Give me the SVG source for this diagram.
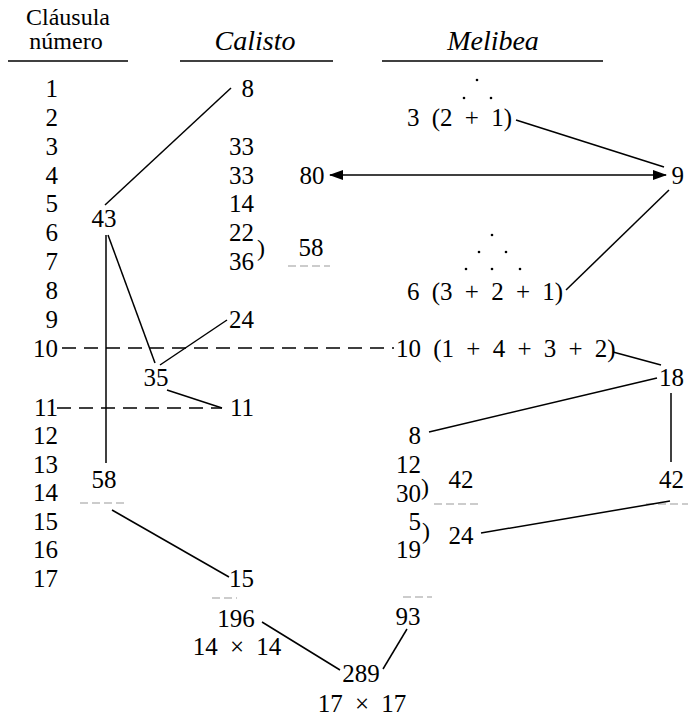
<svg xmlns="http://www.w3.org/2000/svg" width="688" height="717" viewBox="0 0 688 717">
<defs>
<marker id="ah" viewBox="0 0 14 10" refX="13" refY="5" markerWidth="14" markerHeight="10" markerUnits="userSpaceOnUse" orient="auto-start-reverse">
<path d="M0,0 L14,5 L0,10 Z" fill="#000"/>
</marker>
</defs>
<style>
text{font-family:"Liberation Serif","Times New Roman",serif;font-size:25px;fill:#000}
.hd{font-size:24px}
.it{font-style:italic;font-size:28px}
.e{text-anchor:end}
.m{text-anchor:middle}
.ws{word-spacing:6px}
.pr{font-size:24px}
.ln{stroke:#000;stroke-width:1.5;fill:none}
.rule{stroke:#000;stroke-width:1.6}
.dash{stroke-dasharray:14 8}
.faint{stroke:#999;stroke-width:1.2;stroke-dasharray:8 4}
.dot{fill:#000}
</style>
<rect width="688" height="717" fill="#fff"/>

<g id="header">
<text class="hd m" x="68" y="25">Cláusula</text>
<text class="hd m" x="66" y="49">número</text>
<line class="rule" x1="8" y1="61" x2="128" y2="61"/>
<text class="it m" x="255" y="50">Calisto</text>
<line class="rule" x1="180" y1="61" x2="333" y2="61"/>
<text class="it m" x="493" y="50">Melibea</text>
<line class="rule" x1="382" y1="61" x2="603" y2="61"/>
</g>

<g id="clause-numbers">
<text class="e" x="58" y="97">1</text>
<text class="e" x="58" y="126">2</text>
<text class="e" x="58" y="155">3</text>
<text class="e" x="58" y="184">4</text>
<text class="e" x="58" y="212">5</text>
<text class="e" x="58" y="241">6</text>
<text class="e" x="58" y="270">7</text>
<text class="e" x="58" y="299">8</text>
<text class="e" x="58" y="328">9</text>
<text class="e" x="58" y="357">10</text>
<text class="e" x="58" y="416">11</text>
<text class="e" x="58" y="444">12</text>
<text class="e" x="58" y="473">13</text>
<text class="e" x="58" y="501">14</text>
<text class="e" x="58" y="530">15</text>
<text class="e" x="58" y="558">16</text>
<text class="e" x="58" y="587">17</text>
</g>

<g id="calisto">
<g id="c8"><text class="e" x="254" y="97">8</text></g>
<g id="c33a"><text class="e" x="254" y="155">33</text></g>
<g id="c33b"><text class="e" x="254" y="184">33</text></g>
<g id="c14"><text class="e" x="254" y="212">14</text></g>
<g id="c22"><text class="e" x="254" y="241">22</text></g>
<g id="c36"><text class="e" x="254" y="270">36</text><text class="pr" x="257" y="256">)</text></g>
<g id="c58b"><text class="m" x="311" y="256">58</text><line class="faint" x1="288" y1="266" x2="330" y2="266"/></g>
<g id="c43"><text class="m" x="104" y="227">43</text></g>
<g id="c24"><text class="e" x="254" y="328">24</text></g>
<g id="c35"><text class="m" x="156" y="386">35</text></g>
<g id="c11"><text class="e" x="254" y="416">11</text></g>
<g id="c58a"><text class="m" x="104" y="488">58</text><line class="faint" x1="80" y1="503" x2="127" y2="503"/></g>
<g id="c15"><text class="e" x="254" y="587">15</text><line class="faint" x1="212" y1="598" x2="237" y2="598"/></g>
<g id="c196"><text class="m" x="236" y="627">196</text><text class="m ws" x="237" y="655">14 × 14</text></g>
</g>

<g id="melibea">
<g id="dots1">
<circle class="dot" cx="477" cy="80" r="1.3"/>
<circle class="dot" cx="464" cy="98" r="1.3"/>
<circle class="dot" cx="491" cy="98" r="1.3"/>
</g>
<g id="m3"><text class="ws" x="407" y="126">3 (2 + 1)</text></g>
<g id="m80"><text class="m" x="312" y="184">80</text></g>
<g id="m9"><text class="e" x="684" y="184">9</text></g>
<g id="dots2">
<circle class="dot" cx="492" cy="235" r="1.3"/>
<circle class="dot" cx="479" cy="252" r="1.3"/>
<circle class="dot" cx="506" cy="252" r="1.3"/>
<circle class="dot" cx="466" cy="269" r="1.3"/>
<circle class="dot" cx="492" cy="269" r="1.3"/>
<circle class="dot" cx="520" cy="269" r="1.3"/>
</g>
<g id="m6"><text class="ws" x="407" y="300">6 (3 + 2 + 1)</text></g>
<g id="m10"><text class="ws" x="396" y="357">10 (1 + 4 + 3 + 2)</text></g>
<g id="m18"><text class="e" x="684" y="386">18</text></g>
<g id="m8"><text class="e" x="421" y="444">8</text></g>
<g id="m12"><text class="e" x="421" y="473">12</text></g>
<g id="m30"><text class="e" x="421" y="502">30</text><text class="pr" x="421" y="495">)</text></g>
<g id="m42a"><text class="m" x="461" y="488">42</text><line class="faint" x1="434" y1="504" x2="481" y2="504"/></g>
<g id="m42b"><text class="e" x="684" y="488">42</text><line class="faint" x1="646" y1="504" x2="688" y2="504"/></g>
<g id="m5"><text class="e" x="421" y="530">5</text></g>
<g id="m19"><text class="e" x="421" y="558">19</text><text class="pr" x="422" y="539">)</text></g>
<g id="m24"><text class="m" x="461" y="544">24</text></g>
<g id="m93"><text class="m" x="408" y="625">93</text><line class="faint" x1="403" y1="597" x2="432" y2="597"/></g>
</g>

<g id="n289"><text class="m" x="361" y="682">289</text><text class="m ws" x="362" y="712">17 × 17</text></g>

<g id="connectors">
<line class="ln" x1="231" y1="88" x2="105" y2="205"/>
<line class="ln" x1="106" y1="235" x2="106" y2="463"/>
<line class="ln" x1="108" y1="235" x2="155" y2="363"/>
<line class="ln" x1="160" y1="365" x2="227" y2="320"/>
<line class="ln" x1="167" y1="390" x2="222" y2="408"/>
<line class="ln dash" x1="62" y1="348" x2="394" y2="348"/>
<line class="ln dash" x1="57" y1="408" x2="222" y2="408"/>
<line class="ln" x1="112" y1="510" x2="229" y2="577"/>
<line class="ln" x1="262" y1="622" x2="340" y2="670"/>
<line class="ln" x1="407" y1="629" x2="383" y2="669"/>
<line class="ln" x1="516" y1="120" x2="664" y2="167"/>
<line class="ln" x1="566" y1="290" x2="669" y2="190"/>
<line class="ln" x1="330" y1="175" x2="666" y2="175" marker-start="url(#ah)" marker-end="url(#ah)"/>
<line class="ln" x1="613" y1="352" x2="661" y2="365"/>
<line class="ln" x1="657" y1="378" x2="429" y2="432"/>
<line class="ln" x1="671" y1="393" x2="671" y2="462"/>
<line class="ln" x1="481" y1="533" x2="670" y2="501"/>
</g>
</svg>
